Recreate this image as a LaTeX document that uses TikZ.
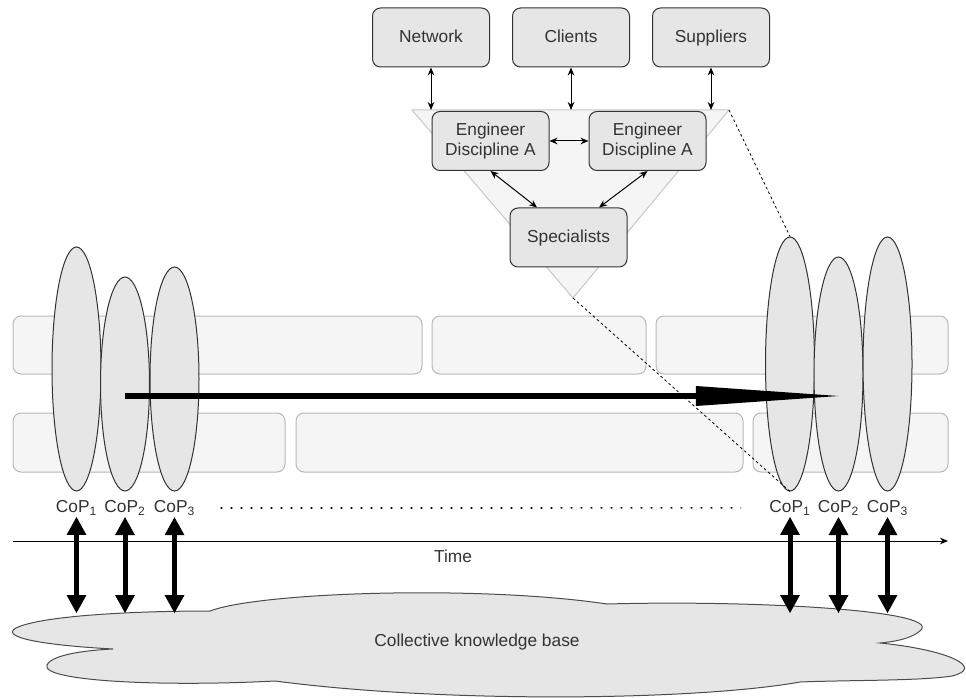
\documentclass[tikz,border=0pt]{standalone}
\usepackage{fontspec}
\setmainfont{Liberation Sans}
\usepackage{tikz}
\usetikzlibrary{positioning}
\usetikzlibrary{arrows.meta,shapes.geometric}
\definecolor{boxfill}{HTML}{E6E6E6}
\definecolor{bandfill}{HTML}{F5F5F5}
\definecolor{bandline}{HTML}{B8B8B8}
\definecolor{txt}{HTML}{333333}

\begin{document}
\begin{tikzpicture}[x=0.75pt,y=-0.75pt, font=\fontsize{13}{15}\selectfont, text=txt,
  box/.style={draw=txt, fill=boxfill, rounded corners=6pt, line width=0.75pt,
              minimum width=87.75pt, minimum height=44.25pt, align=center},
  oneline/.style={text height=0.72em, text depth=0pt},
  band/.style={draw=bandline, fill=bandfill, rounded corners=6pt, line width=0.75pt},
  tri/.style={draw=black!22, fill=bandfill, line width=0.75pt},
  cop/.style={ellipse, draw=txt, fill=boxfill, line width=0.75pt, inner sep=0pt, minimum width=36.75pt},
  coplbl/.style={inner sep=1pt},
  link/.style={line width=0.75pt, {Stealth[length=6pt,width=5pt]}-{Stealth[length=6pt,width=5pt]}},
  kbarrow/.style={line width=3.75pt, {Triangle[length=13.5pt,width=15pt,line width=0pt]}-{Triangle[length=13.5pt,width=15pt,line width=0pt]}},
  bigarrow/.style={line width=4.5pt, -{Triangle[length=107pt,width=15pt,line width=0pt]}},
  zoomline/.style={line width=0.6pt, dash pattern=on 2pt off 2pt},
  axis/.style={line width=0.75pt, -{Stealth[length=6pt,width=5pt]}},
  kb/.style={draw=black!70, fill=boxfill, line width=0.75pt}]

  \useasboundingbox (0,0) rectangle (966,698);

	%bands
    \foreach \xa/\xb in {13/422,432/646,656/948}{
         \draw[band] (\xa,316) rectangle (\xb,374);
    }
    \foreach \xa/\xb in {13/285,296/743,753/948}{
         \draw[band] (\xa,413) rectangle (\xb,472);
    }

	%team
 \coordinate (triL) at (412,110);
 \coordinate (triR) at (729,110);
 \coordinate (triB) at (573,298);
    \draw[tri] (triL) -- (triR) -- (triB) -- cycle;

    \node[box,oneline] (network) at (431,37.5) {Network};
    \node[box,oneline, right=16.5pt of network] (clients) {Clients};
    \node[box,oneline, right=16.5pt of clients] (suppliers) {Suppliers};

    \node[box] (engA) at (490.5,141) {Engineer\\Discipline A};
    \node[box, right=29.25pt of engA] (engB) {Engineer\\Discipline A};
    \node[box,oneline] (specialists) at (568.5,237.5) {Specialists};

    \foreach \name in {network,clients,suppliers}{
         \draw[link] (\name) -- (\name |- triL);
    }
    \draw[link] (engA) -- (engB);
    \draw[link] (engA.south) -- ([xshift=-23.6pt]specialists.north);
    \draw[link] (engB.south) -- ([xshift=22.9pt]specialists.north);

	%communities
    \foreach \name/\x/\y/\h in {cL1/76.5/369/183, cL2/125/384/160.5, cL3/174.5/379/168,
                                cR1/790/364/190.5, cR2/838.5/374/175.5, cR3/887.5/364/190.5}{
         \node[cop, minimum height=\h pt] (\name) at (\x,\y) {};
    }
    \foreach \i/\name in {1/L1,2/L2,3/L3,1/R1,2/R2,3/R3}{
         \node[coplbl, below=5.5pt of c\name] (l\name) {CoP\textsubscript{\i}};
    }

    \draw[zoomline] (triR) -- (cR1.north);
    \draw[zoomline] (triB) -- (cR1.south);

 \coordinate (flowY) at (0,396);
    \draw[bigarrow] (cL2.center |- flowY) -- (cR2.center |- flowY);

    \draw[line width=1.2pt, dash pattern=on 1.2pt off 6.3pt] ([xshift=18pt]lL3.east) -- ([xshift=-20pt]lR1.west);

	%time
 \coordinate (tStart) at (13,541);
 \coordinate (tEnd) at (948,541);
    \draw[axis] (tStart) -- (tEnd);
    \node (time) at (453,556) {Time};

	%knowledge base
    \draw[kb] (210,611) .. controls (260,592) and (480,585) .. (607,604)
        .. controls (750,600) and (940,610) .. (921,630)
        .. controls (912,639) and (892,642) .. (880,643)
        .. controls (950,650) and (985,668) .. (952,676)
        .. controls (920,681) and (850,680) .. (800,682)
        .. controls (700,700) and (450,704) .. (275,681)
        .. controls (160,687) and (40,681) .. (47,665)
        .. controls (52,654) and (90,650) .. (113,649)
        .. controls (40,645) and (0,637) .. (16,628)
        .. controls (40,616) and (130,611) .. (210,611) -- cycle;
    \node (kbText) at (477,642) {Collective knowledge base};

 \coordinate (kbTop) at (0,613);
    \foreach \name in {L1,L2,L3,R1,R2,R3}{
         \draw[kbarrow] (l\name.south) -- (l\name.south |- kbTop);
    }

\end{tikzpicture}
\end{document}
